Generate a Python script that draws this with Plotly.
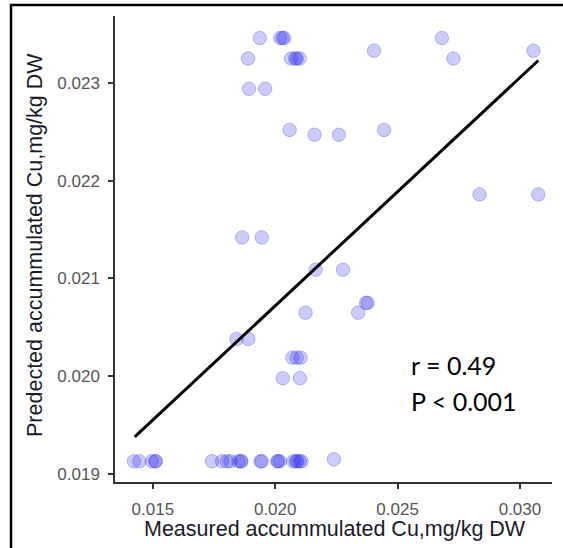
import plotly.graph_objects as go

# ---- data ----
measured = [
    # bottom row
    0.01423, 0.01445, 0.01496, 0.01510, 0.01512, 0.01742, 0.01783, 0.01803, 0.01817,
    0.01850, 0.01860, 0.01862, 0.01940, 0.01945, 0.02008, 0.02012, 0.02019, 0.02074,
    0.02085, 0.02090, 0.02100, 0.02108, 0.02240,
    # upper points
    0.01937, 0.02020, 0.02030, 0.02037, 0.02681,
    0.02404, 0.03055,
    0.01889, 0.02065, 0.02082, 0.02088, 0.02100, 0.02728,
    0.01893, 0.01959,
    0.02059, 0.02445,
    0.02161, 0.02260,
    0.02835, 0.03075,
    0.01865, 0.01945,
    0.02165, 0.02277,
    0.02371, 0.02378,
    0.02124, 0.02339,
    0.01842, 0.01890,
    0.02070, 0.02088, 0.02104,
    0.02031, 0.02101,
]
predicted = [
    0.01913, 0.01913, 0.01913, 0.01913, 0.01913, 0.01913, 0.01913, 0.01913, 0.01913,
    0.01913, 0.01913, 0.01913, 0.01913, 0.01913, 0.01913, 0.01913, 0.01913, 0.01913,
    0.01913, 0.01913, 0.01913, 0.01913, 0.01915,
    0.02346, 0.02346, 0.02346, 0.02346, 0.02346,
    0.02333, 0.02333,
    0.02325, 0.02325, 0.02325, 0.02325, 0.02325, 0.02325,
    0.02294, 0.02294,
    0.02252, 0.02252,
    0.02247, 0.02247,
    0.02186, 0.02186,
    0.02142, 0.02142,
    0.02109, 0.02109,
    0.02075, 0.02075,
    0.02065, 0.02065,
    0.02038, 0.02038,
    0.02019, 0.02019, 0.02019,
    0.01998, 0.01998,
]
fit_x = [0.01426, 0.03075]
fit_y = [0.01938, 0.02323]

x_ticks = [0.015, 0.020, 0.025, 0.030]
x_tick_text = ["0.015", "0.020", "0.025", "0.030"]
y_ticks = [0.019, 0.020, 0.021, 0.022, 0.023]
y_tick_text = ["0.019", "0.020", "0.021", "0.022", "0.023"]

x_title = "Measured accummulated Cu,mg/kg DW"
y_title = "Predected accummulated Cu,mg/kg DW"
stats_lines = ["r = 0.49", "P < 0.001"]
stats_y = [0.02011, 0.01975]

fig = go.Figure()
fig.add_trace(go.Scatter(
    x=measured, y=predicted, mode="markers",
    marker=dict(size=13.5, color="rgba(20,20,240,0.22)",
                line=dict(color="rgba(40,40,200,0.28)", width=1)),
    showlegend=False, hoverinfo="skip",
))
fig.add_trace(go.Scatter(
    x=fit_x, y=fit_y, mode="lines",
    line=dict(color="black", width=3),
    showlegend=False, hoverinfo="skip",
))

for txt, yy in zip(stats_lines, stats_y):
    fig.add_annotation(x=0.02546, y=yy, xref="x", yref="y", text=txt,
                       showarrow=False, xanchor="left", yanchor="middle",
                       font=dict(family="Lato", size=25, color="black"))

title_font = dict(family="Liberation Sans", size=21.5, color="#1a1a2a")
fig.add_annotation(x=0.5034, y=0, xref="paper", yref="paper", text=x_title,
                   showarrow=False, xanchor="center", yanchor="middle", yshift=-47,
                   font=title_font)
fig.add_annotation(x=0, y=0.5086, xref="paper", yref="paper", text=y_title,
                   showarrow=False, xanchor="center", yanchor="middle", xshift=-80,
                   textangle=-90, font=title_font)

# outer frame of the picture (pixel offsets from the plot-area corners)
fig.add_shape(type="rect", xref="paper", yref="paper",
              xsizemode="pixel", ysizemode="pixel", xanchor=0, yanchor=1,
              x0=-104, x1=460, y0=11, y1=-540,
              line=dict(color="black", width=2.5), fillcolor="rgba(0,0,0,0)")

axis_common = dict(
    showgrid=False, zeroline=False, showline=True, linecolor="#333333", linewidth=1.5,
    ticks="outside", ticklen=5, tickwidth=1.5, tickcolor="#333333",
    tickfont=dict(family="Liberation Sans", size=17, color="#555555"),
    automargin=False,
)
fig.update_xaxes(range=[0.013455, 0.03131], tickvals=x_ticks, ticktext=x_tick_text,
                 ticklabelstandoff=6, **axis_common)
fig.update_yaxes(range=[0.018918, 0.023685], tickvals=y_ticks, ticktext=y_tick_text,
                 ticklabelstandoff=5, **axis_common)

fig.update_layout(
    width=563, height=548,
    margin=dict(l=115, r=11, t=16, b=66),
    plot_bgcolor="white", paper_bgcolor="white",
)
fig.write_html("out.html", config={"displayModeBar": False},
               post_script="document.body.style.margin='0px';document.body.style.overflow='hidden';")
